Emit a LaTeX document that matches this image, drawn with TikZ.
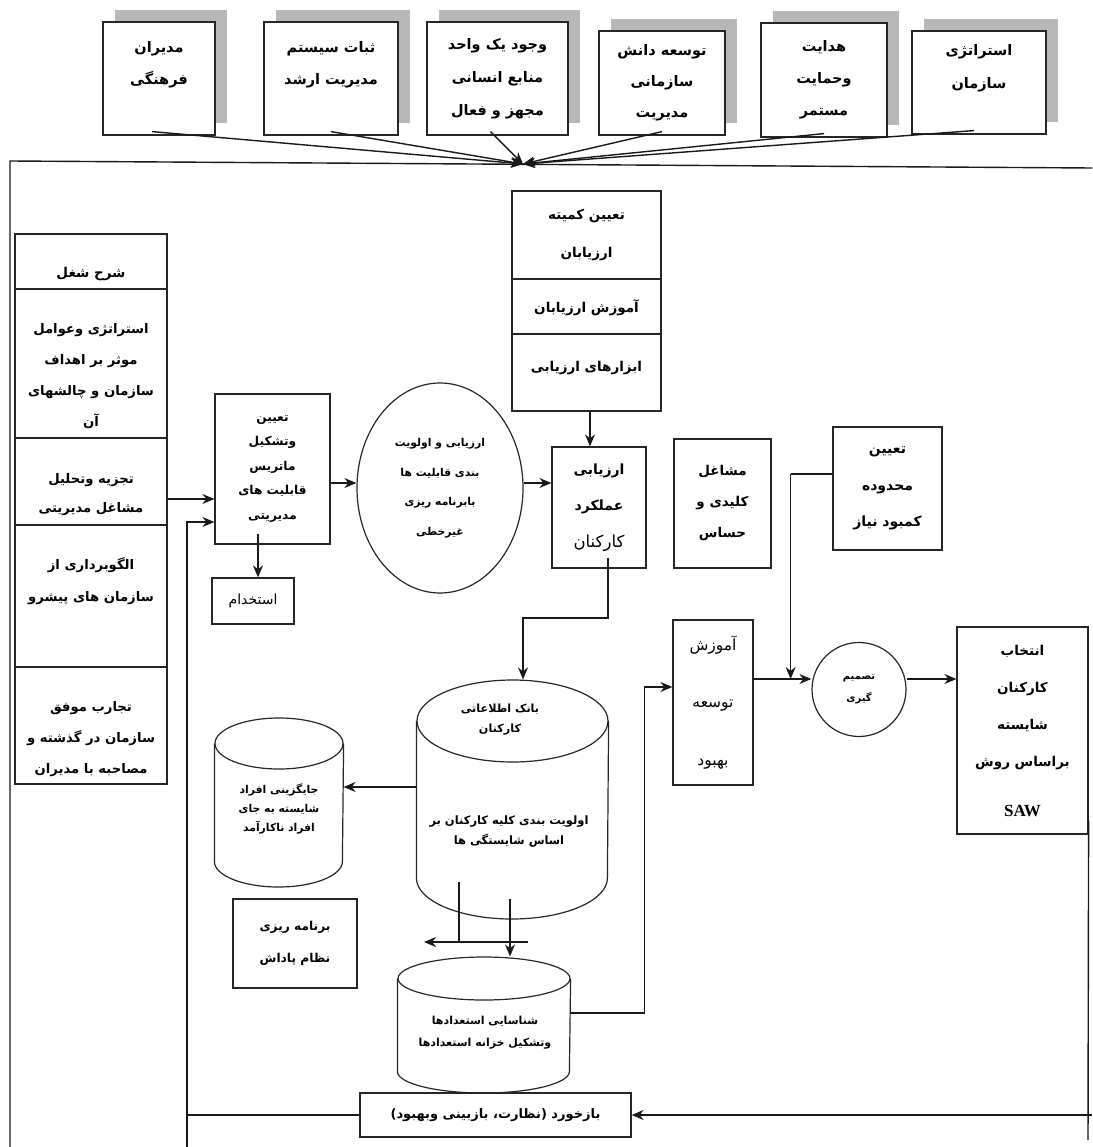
\documentclass[tikz,border=0pt]{standalone}
\usepackage{fontspec}
\usetikzlibrary{arrows.meta,shadows,shapes.geometric}
\newfontfamily\fafont[Script=Arabic]{DejaVu Sans}
\newfontfamily\latfont{Liberation Serif}
\TeXXeTstate=1
\newcommand{\fl}[1]{\beginR #1\endR}
\tikzset{>={Stealth[length=12pt,width=10pt]}}
\tikzset{
    box/.style={draw=black!85, line width=1.2pt, fill=white, inner sep=0pt, align=center},
    rule/.style={draw=black!85, line width=1.2pt},
    lbl/.style={align=center, inner sep=0pt},
    fa/.style 2 args={font=\fafont\bfseries\fontsize{#1}{#2}\selectfont},
    far/.style 2 args={font=\fafont\fontsize{#1}{#2}\selectfont},
    shd/.style={drop shadow={shadow xshift=11.5pt, shadow yshift=12pt, fill=black!28, opacity=1}},
    link/.style={line width=1.4pt, black!90}
}
\begin{document}
\begin{tikzpicture}[x=1pt,y=-1pt]
    \useasboundingbox (0,0) rectangle (1092,1147);
    % factors on top
    \node[box,shd,fa={14.5}{32},minimum width=112,minimum height=113] (cult) at (159,78.5) {\fl{مدیران}\\\fl{فرهنگی}\\\mbox{}};
    \node[box,shd,fa={14.5}{32},minimum width=134,minimum height=113] (stab) at (331,78.5) {\fl{ثبات سیستم}\\\fl{مدیریت ارشد}\\\mbox{}};
    \node[box,shd,fa={14.5}{33},minimum width=141,minimum height=113] (hrunit) at (497.5,78.5) {\fl{وجود یک واحد}\\\fl{منابع انسانی}\\\fl{مجهز و فعال}};
    \node[box,shd,fa={14.5}{31},minimum width=126,minimum height=104] (know) at (662,83) {\fl{توسعه دانش}\\\fl{سازمانی}\\\fl{مدیریت}};
    \node[box,shd,fa={14.5}{32},minimum width=126,minimum height=114] (guide) at (824,80) {\fl{هدایت}\\\fl{وحمایت}\\\fl{مستمر}};
    \node[box,shd,fa={14.5}{33},minimum width=134,minimum height=103] (strat) at (979,82.5) {\fl{استراتژی}\\\fl{سازمان}\\\mbox{}};
    % frame
    \draw[link] (10,1147) -- (10,161) -- (1092,168);
    \coordinate (hub) at (523,164);
    \draw[link,->] ([xshift=-7pt,yshift=4pt]cult.south) -- (hub);
    \draw[link,->] ([yshift=4pt]stab.south) -- (hub);
    \draw[link,->] ([xshift=-7pt,yshift=4pt]hrunit.south) -- (hub);
    \draw[link,->] ([yshift=4pt]know.south) -- (hub);
    \draw[link,->] ([yshift=4pt]guide.south) -- (hub);
    \draw[link,->] ([xshift=-5pt,yshift=4pt]strat.south) -- (hub);

    % job analysis column
    \node[box,minimum width=152,minimum height=550] (jobs) at (91,509) {};
    \draw[rule] (15,289) -- (167,289);
    \draw[rule] (15,438) -- (167,438);
    \draw[rule] (15,525) -- (167,525);
    \draw[rule] (15,667) -- (167,667);
    \node[lbl,fa={13.5}{31}] (jobs-a) at (91,274) {\fl{شرح شغل}};
    \node[lbl,fa={13.2}{31}] (jobs-b) at (91,376.5) {\fl{استراتژی وعوامل}\\\fl{موثر بر اهداف}\\\fl{سازمان و چالشهای}\\\fl{آن}};
    \node[lbl,fa={13.2}{29}] (jobs-c) at (91,494.5) {\fl{تجزیه وتحلیل}\\\fl{مشاغل مدیریتی}};
    \node[lbl,fa={13.2}{32}] (jobs-d) at (91,581) {\fl{الگوبرداری از}\\\fl{سازمان های پیشرو}};
    \node[lbl,fa={13.2}{31}] (jobs-e) at (91,739) {\fl{تجارب موفق}\\\fl{سازمان در گذشته و}\\\fl{مصاحبه با مدیران}};

    % evaluators panel
    \node[box,minimum width=149,minimum height=220] (panel) at (586.5,301) {};
    \draw[rule] (512,279) -- (661,279);
    \draw[rule] (512,334) -- (661,334);
    \node[lbl,fa={13.5}{38}] (panel-a) at (586.5,235) {\fl{تعیین کمیته}\\\fl{ارزیابان}};
    \node[lbl,fa={13.5}{30}] (panel-b) at (586.5,308) {\fl{آموزش ارزیابان}};
    \node[lbl,fa={13.5}{30}] (panel-c) at (586.5,368) {\fl{ابزارهای ارزیابی}};

    % main chain
    \node[box,fa={12.2}{24.5},minimum width=115,minimum height=150] (mat) at (272.5,469) {\fl{تعیین}\\\fl{وتشکیل}\\\fl{ماتریس}\\\fl{قابلیت های}\\\fl{مدیریتی}};
    \node[box,far={14}{16},minimum width=82,minimum height=46] (hire) at (253,601) {\fl{استخدام}};
    \node[draw=black!85,line width=1.2pt,ellipse,inner sep=0pt,minimum width=166,minimum height=210,align=center,fa={10.8}{29.5}] (prio) at (440,488) {\fl{ارزیابی و اولویت}\\\fl{بندی قابلیت ها}\\\fl{بابرنامه ریزی}\\\fl{غیرخطی}};
    \node[box,fa={14}{36.5},minimum width=94,minimum height=121] (eval) at (599,507.5) {\fl{ارزیابی}\\\fl{عملکرد}\\{\mdseries\fontsize{16.5}{20}\selectfont\fl{کارکنان}}};
    \node[box,fa={13.5}{31},minimum width=97,minimum height=129] (key) at (722.5,503.5) {\fl{مشاغل}\\\fl{کلیدی و}\\\fl{حساس}};
    \node[box,fa={14}{36.5},minimum width=109,minimum height=123] (gap) at (887.5,488.5) {\fl{تعیین}\\\fl{محدوده}\\\fl{کمبود نیاز}};
    \node[box,far={15.5}{57.5},minimum width=80,minimum height=165] (train) at (713,702.5) {\fl{آموزش}\\\fl{توسعه}\\\fl{بهبود}};
    \node[draw=black!85,line width=1.2pt,circle,inner sep=0pt,minimum size=94,align=center,fa={10}{22}] (dec) at (859,689.5) {\fl{تصمیم}\\\fl{گیری}};
    \node[box,fa={13.5}{37},minimum width=131,minimum height=207] (sel) at (1022.5,730.5) {\fl{انتخاب}\\\fl{کارکنان}\\\fl{شایسته}\\\fl{براساس روش}\\[13pt]{\latfont\bfseries\fontsize{17}{20}\selectfont SAW}};
    \node[box,fa={12.2}{32},minimum width=124,minimum height=89] (rwd) at (295,943.5) {\fl{برنامه ریزی}\\\fl{نظام پاداش}};
    \node[box,fa={13}{16},minimum width=271,minimum height=44] (fb) at (495.5,1115) {\fl{بازخورد (نظارت، بازبینی وبهبود)}};

    % data stores
    \node[rule,fill=white,ellipse,inner sep=0pt,minimum width=191,minimum height=82] (bank) at (512.5,721) {};
    \draw[rule] (bank.west) -- ++(0,157) arc[start angle=180,end angle=0,x radius=95.5,y radius=41] -- (bank.east);
    \node[lbl,fa={11.2}{20}] (bank-a) at (500,720) {\fl{بانک اطلاعاتی}\\\fl{کارکنان}};
    \node[lbl,fa={11.5}{20}] (bank-b) at (509,832) {\fl{اولویت بندی کلیه کارکنان بر}\\\fl{اساس شایستگی ها}};
    \node[rule,ellipse,inner sep=0pt,minimum width=128,minimum height=51] (repl) at (279,743.5) {};
    \draw[rule] (repl.west) -- ++(0,118) arc[start angle=180,end angle=0,x radius=64,y radius=25.5] -- (repl.east);
    \node[lbl,fa={10.8}{19}] (repl-t) at (279,809) {\fl{جایگزینی افراد}\\\fl{شایسته به جای}\\\fl{افراد ناکارآمد}};
    \node[rule,ellipse,inner sep=0pt,minimum width=172,minimum height=43] (tal) at (484,978.5) {};
    \draw[rule] (tal.west) -- ++(0,93) arc[start angle=180,end angle=0,x radius=86,y radius=21.5] -- (tal.east);
    \node[lbl,fa={11}{22}] (tal-t) at (485,1033) {\fl{شناسایی استعدادها}\\\fl{وتشکیل خزانه استعدادها}};

    % connectors
    \draw[link,->] ([yshift=10pt]jobs.east) -- ([yshift=10pt]jobs.east -| mat.west);
    \draw[link,->] ([xshift=-14.5pt,yshift=11pt]mat.south) -- ([xshift=-14.5pt]mat.south |- hire.north);
    \draw[link,->] ([yshift=-14pt]mat.east) -- ([yshift=-14pt]mat.east -| prio.west);
    \draw[link,->] ([yshift=5pt]prio.east) -- ([yshift=5pt]prio.east -| eval.west);
    \draw[link,->] ([xshift=3.5pt]panel.south) -- ([xshift=3.5pt]panel.south |- eval.north);
    \coordinate (ev-knee) at (523,618);
    \draw[link,->] ([xshift=9pt,yshift=11pt]eval.south) |- (ev-knee) -- ([xshift=10.5pt]bank.north);
    \draw[link,->] ([yshift=-66pt]bank.west) -- ([yshift=-66pt]bank.west -| repl.east);
    \coordinate (bk-l) at (459,882);
    \coordinate (bk-r) at (510,899);
    \coordinate (rw-tail) at (528,942);
    \coordinate (rw-tip) at (424,942);
    \draw[link] (bk-l) -- (bk-l |- rw-tail);
    \draw[link,->] (rw-tail) -- (rw-tip);
    \draw[link,->] (bk-r) -- ([xshift=26pt]tal.north);
    \draw[link,->] ([yshift=-34.5pt]tal.east) -| ([xshift=-28pt,yshift=15.5pt]train.west) -- ([yshift=15.5pt]train.west);
    \coordinate (kj) at ([xshift=19pt,yshift=29.5pt]key.east);
    \coordinate (td) at ([yshift=23.5pt]train.east);
    \draw[link] (kj) -- (kj -| gap.west);
    \draw[link,->] (kj) -- (kj |- td);
    \draw[link,->] (td) -- (td -| dec.west);
    \draw[link,->] (td -| dec.east) -- (td -| sel.west);
    % feedback loop
    \coordinate (rv-top) at ([yshift=14pt]sel.south east);
    \coordinate (rv-bot) at (1088,1140);
    \coordinate (fb-in) at (1092,1115);
    \draw[link] (rv-top) -- (rv-bot);
    \draw[link,->] (fb-in) -- (fb.east);
    \coordinate (fb-turn) at (187,1115);
    \draw[link,->] (fb.west) -- (fb-turn) |- ([yshift=-53pt]mat.west);
    \draw[link] (fb-turn) -- (187,1147);
\end{tikzpicture}
\end{document}
